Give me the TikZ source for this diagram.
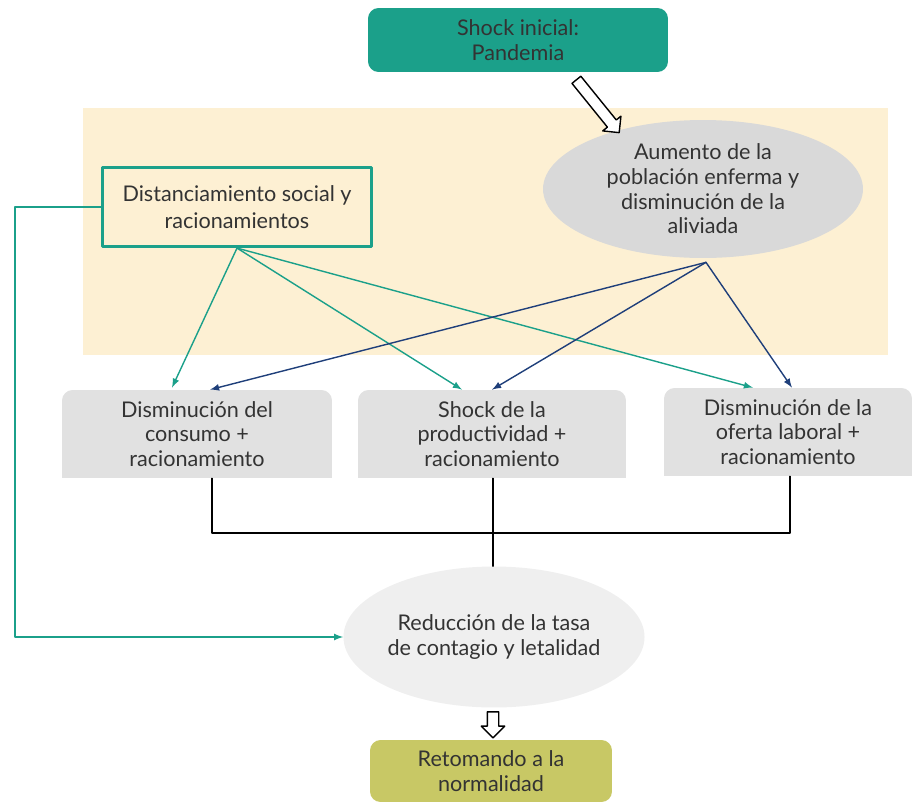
\documentclass[tikz,border=0pt]{standalone}
\usepackage{fontspec}
\setmainfont{Lato}
\usetikzlibrary{shapes.geometric,shapes.arrows,calc}

\definecolor{verde}{HTML}{1BA08A}
\definecolor{azul}{HTML}{1F3F7A}
\definecolor{crema}{HTML}{FDF0D3}
\definecolor{gris}{HTML}{E1E1E1}
\definecolor{grisel}{HTML}{D9D9D9}
\definecolor{grisclaro}{HTML}{EFEFEF}
\definecolor{oliva}{HTML}{C8C865}
\definecolor{texto}{HTML}{333333}

\begin{document}
\begin{tikzpicture}[x=0.02cm, y=-0.02cm, line cap=round, line join=round, >=latex,
    every node/.append style={font=\fontsize{12.3}{14}\selectfont, text=texto, align=center},
    caja/.style={rectangle, rounded corners=6pt, fill=gris, minimum width=5.4cm, minimum height=1.76cm},
    hueco/.style={single arrow, draw=black, fill=white, thick, inner sep=0.1cm,
      minimum width=0.46cm, single arrow head extend=0.12cm, single arrow head indent=0pt}]

  \useasboundingbox (0,0) rectangle (912,801);
  \fill[crema] (83,108) rectangle (888,355);

  \node[rectangle, rounded corners=6pt, fill=verde, minimum width=6cm, minimum height=1.28cm]
    (shock) at (518,40) {Shock inicial:\\Pandemia};
  \node[ellipse, fill=grisel, minimum width=6.4cm, minimum height=2.76cm, inner sep=0pt]
    (aum) at (703,189) {Aumento de la\\poblaci\'on enferma y\\disminuci\'on de la\\aliviada};
  \node[rectangle, draw=verde, line width=1.8pt, fill=crema, minimum width=5.38cm, minimum height=1.58cm,
    font=\fontsize{12.3}{15.5}\selectfont]
    (dist) at (237,207) {Distanciamiento social y\\racionamientos};

  \node[caja] (cons) at (197,434) {Disminuci\'on del\\consumo +\\racionamiento};
  \node[caja, minimum width=5.36cm] (prod) at (492,434) {Shock de la\\productividad +\\racionamiento};
  \node[caja, minimum width=4.96cm] (ofer) at (788,432) {Disminuci\'on de la\\oferta laboral +\\racionamiento};
  % esquinas de abajo rectas
  \foreach \b in {cons,prod,ofer}
    \fill[gris] ($(\b.south west)+(0,-10)$) rectangle (\b.south east);

  \node[ellipse, fill=grisclaro, minimum width=5.84cm, minimum height=2.82cm, inner sep=0pt]
    (red) at (494,637) {Reducci\'on de la tasa\\de contagio y letalidad};
  \node[rectangle, rounded corners=6pt, fill=oliva, minimum width=4.84cm, minimum height=1.24cm]
    (ret) at (491,771) {Retomando a la\\normalidad};

  % flechas huecas
  \node[hueco, minimum height=1.36cm, rotate=-51] at (596,104) {};
  \node[hueco, minimum height=0.52cm, rotate=-90] at (493,722) {};

  \path[->, verde, thick] (dist.south)
    edge ($(cons.north)+(-25,-2)$)
    edge ($(prod.north)+(-30,0)$)
    edge ($(ofer.north)+(-35,0)$);
  \path[->, azul, thick] ($(aum.south)+(3,4)$)
    edge ($(cons.north)+(13,0)$)
    edge (prod.north)
    edge ($(ofer.north)+(4,0)$);

  \coordinate (union) at (493,533);
  \draw[thick] ($(cons.south)+(15,0)$) |- (union) -| ($(ofer.south)+(2,0)$);
  \draw[thick] (union |- prod.south) -- (union |- red.north);

  \coordinate (esq) at (15,207);
  \draw[->, verde, thick] (dist.west) -- (esq) |- (red.west);
\end{tikzpicture}
\end{document}
